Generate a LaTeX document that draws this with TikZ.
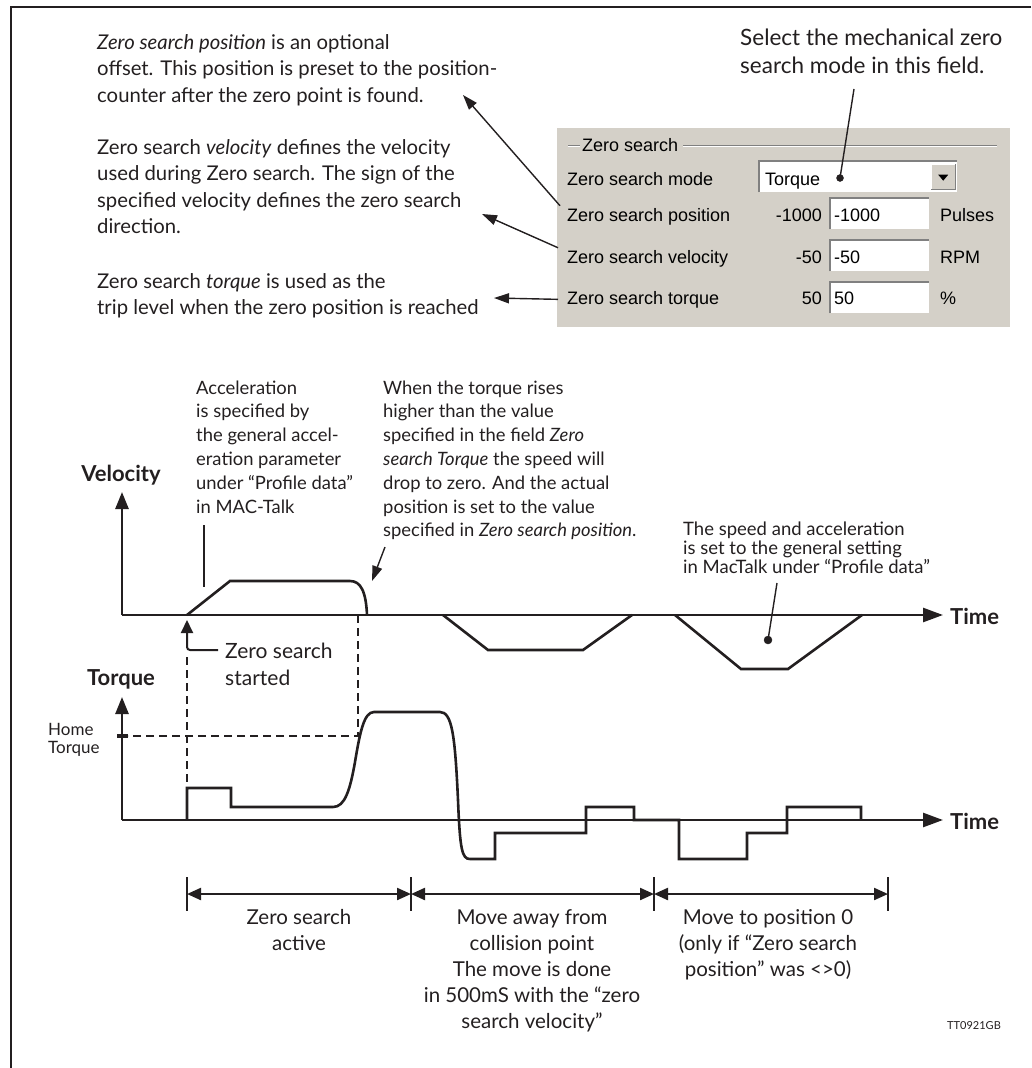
\documentclass[tikz,border=0pt]{standalone}
\usepackage{fontspec}
\setmainfont{Lato}
\newfontfamily\dlgfont{Liberation Sans}
\usetikzlibrary{arrows.meta}
\definecolor{inkc}{RGB}{35,31,32}
\definecolor{panelc}{RGB}{212,208,200}
\definecolor{shadec}{RGB}{128,128,128}

\tikzset{
  curve/.style={draw=inkc, line width=2.6pt},
  dashline/.style={draw=inkc, line width=1.8pt, dash pattern=on 8pt off 5pt},
  pointer/.style={draw=inkc, line width=1.4pt},
  note/.style={text=inkc, align=left, anchor=base west, inner sep=0pt, font=\fontsize{20.3}{26.5}\selectfont},
  midnote/.style={text=inkc, align=left, anchor=base west, inner sep=0pt, font=\fontsize{18.4}{23.8}\selectfont},
  lownote/.style={text=inkc, align=center, anchor=base, inner sep=0pt, font=\fontsize{20.5}{26.2}\selectfont},
  axlbl/.style={text=inkc, anchor=base, inner sep=0pt, font=\fontsize{22}{24}\selectfont\bfseries},
  dlg/.style={text=black, anchor=base west, inner sep=0pt, font=\dlgfont\fontsize{18}{20}\selectfont},
  editbox/.style={fill=white, anchor=north west, minimum width=99pt, minimum height=31pt, inner sep=0pt},
  sunken/.style={draw=shadec, line width=2pt},
  bigtip/.tip={Triangle[length=17pt,width=13pt]},
  timetip/.tip={Triangle[length=20pt,width=14pt]},
  smalltip/.tip={Triangle[length=15pt,width=10pt]},
  dimtip/.tip={Triangle[length=14pt,width=12pt]}
}

\begin{document}
\begin{tikzpicture}[x=1pt,y=-1pt]
  \useasboundingbox (0,0) rectangle (1031,1068);

  % frame
  \draw[inkc, line width=2pt] (1031,7) -- (11,7) -- (11,1068);

  % notes on the top (placed at the baseline of their last line)
  \node[note] (posnote) at (97,102) {\textit{Zero search position} is an optional\\offset. This position is preset to the position-\\counter after the zero point is found.};
  \node[note] (velnote) at (97,233.5) {Zero search \textit{velocity} defines the velocity\\used during Zero search. The sign of the\\specified velocity defines the zero search\\direction.};
  \node[note] (trqnote) at (97,314.5) {Zero search \textit{torque} is used as the\\trip level when the zero position is reached};
  \node[note, font=\fontsize{22.5}{28}\selectfont] (modenote) at (740,73) {Select the mechanical zero\\search mode in this field.};

  % dialog
  \fill[panelc] (557,128) rectangle (1010,327);
  \draw[shadec, line width=1pt] (568,145) -- (580,145) (683,145) -- (997,145);
  \draw[white, line width=1pt] (568,146.5) -- (580,146.5) (683,146.5) -- (997,146.5);
  \node[dlg] (grptitle) at (582,151) {Zero search};

  \node[dlg] (modelbl) at (567,185.5) {Zero search mode};
  \node[dlg] (poslbl) at (567,221) {Zero search position};
  \node[dlg] (vellbl) at (567,263) {Zero search velocity};
  \node[dlg] (trqlbl) at (567,304) {Zero search torque};

  \node[editbox, minimum width=198pt] (modebox) at (759,161) {};
  \draw[sunken] (modebox.south west) -- (modebox.north west) -- (modebox.north east);
  \node[dlg] (modein) at (765,185.5) {Torque};
  \node[fill=panelc, anchor=north west, minimum width=24pt, minimum height=25pt, inner sep=0pt] (modebtn) at (931,164) {};
  \draw[white, line width=1pt] (modebtn.south west) -- (modebtn.north west) -- (modebtn.north east);
  \draw[shadec, line width=1.5pt] (modebtn.north east) -- (modebtn.south east) -- (modebtn.south west);
  \fill[black] ([xshift=-5pt,yshift=2pt]modebtn.center) -- ++(10,0) -- ++(-5,6) -- cycle;

  \node[editbox] (posbox) at (830,198) {};
  \draw[sunken] (posbox.south west) -- (posbox.north west) -- (posbox.north east);
  \node[editbox] (velbox) at (830,240) {};
  \draw[sunken] (velbox.south west) -- (velbox.north west) -- (velbox.north east);
  \node[editbox] (trqbox) at (830,282) {};
  \draw[sunken] (trqbox.south west) -- (trqbox.north west) -- (trqbox.north east);

  \node[dlg, anchor=base east] (posval) at (822,221) {-1000};
  \node[dlg, anchor=base east] (velval) at (822,263) {-50};
  \node[dlg, anchor=base east] (trqval) at (822,304) {50};
  \node[dlg] (posin) at (834,221) {-1000};
  \node[dlg] (velin) at (834,263) {-50};
  \node[dlg] (trqin) at (834,304) {50};
  \node[dlg] (posunit) at (940,221) {Pulses};
  \node[dlg] (velunit) at (940,263) {RPM};
  \node[dlg] (trqunit) at (940,304) {\%};

  % pointers from the dialog
  \coordinate (postip) at (463,95);
  \coordinate (veltip) at (482,214);
  \coordinate (trqtip) at (494,298);
  \coordinate (modedot) at (840,178);
  \coordinate (modetail) at (854,89);
  \draw[pointer, -smalltip] ([shift={(-7pt,2pt)}]poslbl.north west) -- (postip);
  \draw[pointer, -smalltip] ([shift={(-9pt,2pt)}]vellbl.north west) -- (veltip);
  \draw[pointer, -smalltip] ([xshift=-9pt]trqlbl.west) -- (trqtip);
  \draw[pointer] (modetail) -- (modedot);
  \filldraw[inkc] (modedot) circle (3.5pt);

  % velocity plot
  \coordinate (vo) at (122,615);
  \draw[curve, -bigtip] (vo) -- (122,492);
  \draw[curve, -timetip] (vo) -- (943,615);
  \node[axlbl] (veltitle) at (121,481) {Velocity};
  \node[axlbl, anchor=base west] (vtime) at (950,624) {Time};
  \draw[curve] (187,615) -- (230,581) -- (350,581) .. controls (361,581) and (366,592) .. (367,615);
  \draw[curve] (443,615) -- (488,650) -- (583,650) -- (632,615);
  \draw[curve] (675,615) -- (741,669) -- (788,669) -- (862,615);

  \node[midnote] (accnote) at (196,513) {Acceleration\\is specified by\\the general accel-\\eration parameter\\under ``Profile data''\\in MAC-Talk};
  \node[midnote] (whennote) at (383,536.8) {When the torque rises\\higher than the value\\specified in the field \textit{Zero}\\\textit{search Torque} the speed will\\drop to zero. And the actual\\position is set to the value\\specified in \textit{Zero search position}.};
  \node[text=inkc, align=left, anchor=base west, inner sep=0pt, font=\fontsize{18.5}{19}\selectfont] (speednote) at (683,573) {The speed and acceleration\\is set to the general setting\\in MacTalk under ``Profile data''};

  \coordinate (acctail) at (204,525);
  \coordinate (acchead) at (204,587);
  \draw[pointer] (acctail) -- (acchead);
  \coordinate (whentail) at (385,547);
  \coordinate (whentip) at (372,581);
  \draw[pointer, -smalltip] (whentail) -- (whentip);
  \coordinate (speedtail) at (777,583);
  \coordinate (speeddot) at (768,640);
  \draw[pointer] (speedtail) -- (speeddot);
  \filldraw[inkc] (speeddot) circle (4pt);

  % zero search started
  \node[text=inkc, align=left, anchor=base west, inner sep=0pt, font=\fontsize{21}{27}\selectfont] (startnote) at (225,685) {Zero search\\started};
  \coordinate (starttip) at (187,620);
  \draw[inkc, line width=2pt, rounded corners=3pt, -{Triangle[length=13pt,width=12pt]}] (218,650) -| (starttip);

  % dashed helper lines
  \draw[dashline] (187,657) -- (187,820);
  \draw[dashline] (358,615) -- (358,736) -- (128,736);

  % torque plot
  \coordinate (to) at (122,820);
  \draw[curve, -bigtip] (to) -- (122,697);
  \draw[curve, -timetip] (to) -- (943,820);
  \draw[inkc, line width=3.5pt] (117,736) -- (128,736);
  \node[axlbl] (trqtitle) at (121,685) {Torque};
  \node[axlbl, anchor=base west] (ttime) at (950,829) {Time};
  \node[text=inkc, align=left, anchor=base west, inner sep=0pt, font=\fontsize{17}{18}\selectfont] (homelbl) at (48,753) {Home\\Torque};
  \draw[curve] (187,820) -- (187,788) -- (231,788) -- (231,807) -- (333,807)
    .. controls (345,807) and (350,790) .. (355,762)
    .. controls (360,732) and (364,712) .. (374,712) -- (440,712)
    .. controls (452,712) and (455,735) .. (458,800)
    .. controls (460,850) and (462,859) .. (470,859)
    -- (495,859) -- (495,833) -- (586,833) -- (586,807) -- (634,807) -- (634,820)
    -- (679,820) -- (679,859) -- (747,859) -- (747,833) -- (787,833) -- (787,807)
    -- (861,807) -- (861,820);

  % phases
  \coordinate (d1) at (187,894);
  \coordinate (d2) at (411,894);
  \coordinate (d3) at (654,894);
  \coordinate (d4) at (888,894);
  \draw[inkc, line width=2pt] (d1) ++(0,-17) -- ++(0,34);
  \draw[inkc, line width=2pt] (d2) ++(0,-17) -- ++(0,34);
  \draw[inkc, line width=2pt] (d3) ++(0,-17) -- ++(0,34);
  \draw[inkc, line width=2pt] (d4) ++(0,-17) -- ++(0,34);
  \draw[inkc, line width=2.2pt, dimtip-dimtip] (d1) -- (d2);
  \draw[inkc, line width=2.2pt, dimtip-dimtip] (d2) -- (d3);
  \draw[inkc, line width=2.2pt, dimtip-dimtip] (d3) -- (d4);
  \node[lownote] (searchact) at (299,950.2) {Zero search\\active};
  \node[lownote] (moveaway) at (532,1028.8) {Move away from\\collision point\\The move is done\\in 500mS with the ``zero\\search velocity''};
  \node[lownote] (movezero) at (768,976.4) {Move to position 0\\(only if ``Zero search\\position'' was <>0)};
  \node[text=inkc, anchor=base west, inner sep=0pt, font=\fontsize{11}{13}\selectfont] (ttlbl) at (947,1029) {TT0921GB};
\end{tikzpicture}
\end{document}
